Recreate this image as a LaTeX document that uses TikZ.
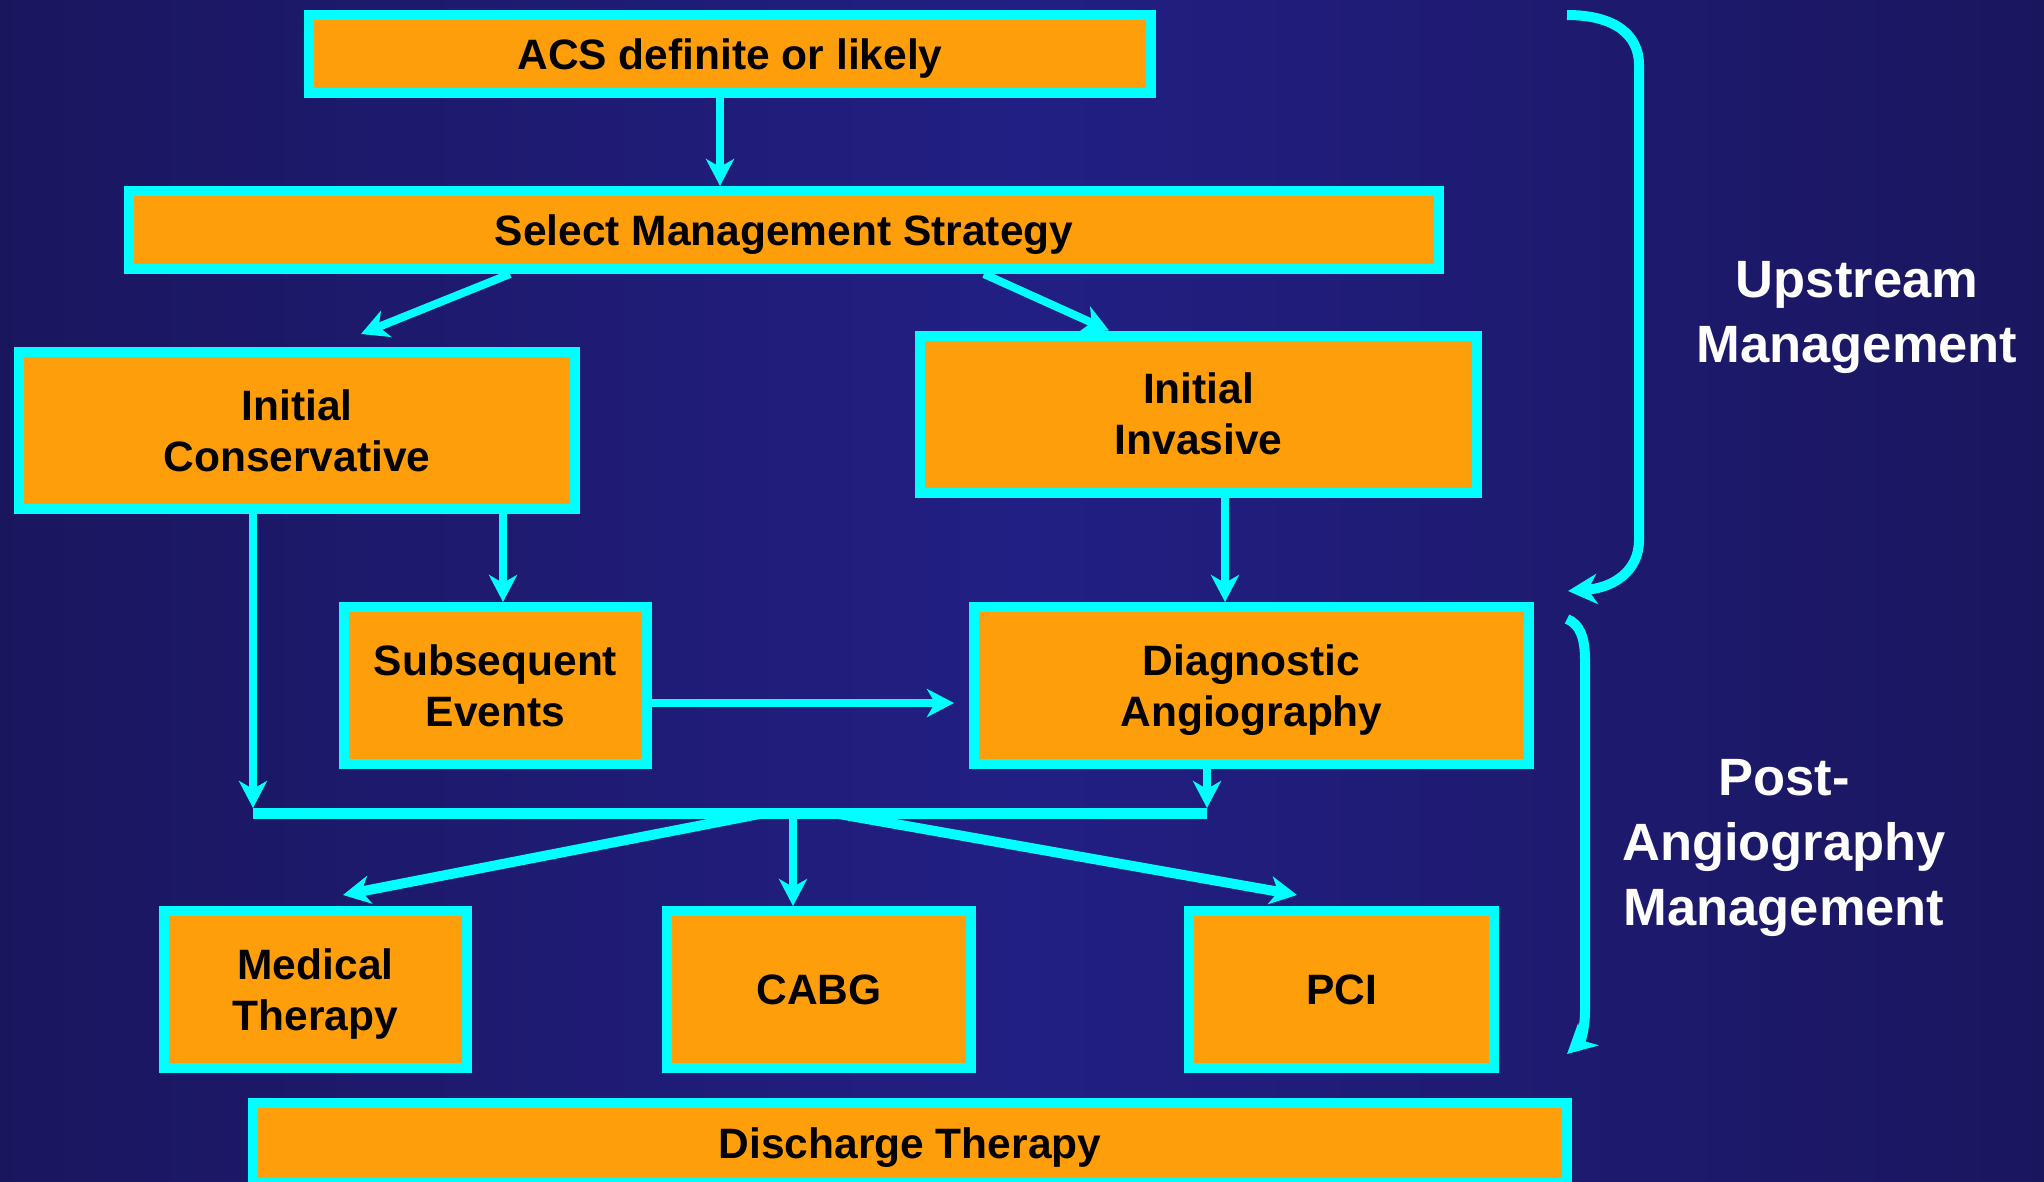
\documentclass[tikz,border=0pt]{standalone}
\usepackage{amsmath}
\usepackage{fontspec}
\setmainfont{Liberation Sans}
\usetikzlibrary{arrows.meta}
\definecolor{bgdark}{RGB}{26,22,94}
\definecolor{bglight}{RGB}{34,31,132}
\definecolor{boxorange}{RGB}{255,158,11}
\definecolor{linkcyan}{RGB}{0,255,255}

\begin{document}
\begin{tikzpicture}[x=1pt, y=-1pt,
flowbox/.style = {draw = linkcyan, fill = boxorange, line width = 10pt, inner sep = 0pt,
    align = center, text = black, font = \bfseries\fontsize{42.5}{51}\selectfont},
sidelabel/.style = {align = center, text = white, font = \bfseries\fontsize{52.5}{65}\selectfont},
link/.style = {draw = linkcyan, line width = 8pt, -{Stealth[length=27pt, width=28pt, inset=8pt]}},
fan/.style = {link, line width = 10pt},
junction/.style = {draw = linkcyan, line width = 11pt},
bracket/.style = {draw = linkcyan, line width = 10pt, -{Stealth[length=29pt, width=30pt, inset=9pt]}}]
\useasboundingbox (0,0) rectangle (2044,1181);
\clip (0,0) rectangle (2044,1181);
\shade[left color = bgdark, right color = bgdark, middle color = bglight] (0,0) rectangle (2044,1181);
% boxes
\node[flowbox, minimum width = 842pt, minimum height = 78pt] (acs) at (730,54) {\smash[b]{ACS definite or likely}};
\node[flowbox, minimum width = 1310pt, minimum height = 78pt] (select) at (784,230) {\smash[b]{Select Management Strategy}};
\node[flowbox, minimum width = 556pt, minimum height = 157pt] (cons) at (297,430.5) {Initial\\Conservative};
\node[flowbox, minimum width = 557pt, minimum height = 157pt] (inv) at (1198.5,414) {Initial\\Invasive};
\node[flowbox, minimum width = 303pt, minimum height = 157pt] (subs) at (495.5,685.5) {Subsequent\\Events};
\node[flowbox, minimum width = 555pt, minimum height = 157pt] (diag) at (1251.5,685.5) {Diagnostic\\\smash[b]{Angiography}};
\node[flowbox, minimum width = 303pt, minimum height = 157pt] (med) at (315.5,989.5) {Medical\\\smash[b]{Therapy}};
\node[flowbox, minimum width = 304pt, minimum height = 157pt] (cabg) at (819,989.5) {CABG};
\node[flowbox, minimum width = 305pt, minimum height = 157pt] (pci) at (1341.5,989.5) {PCI};
\node[flowbox, minimum width = 1314pt, minimum height = 80pt] (dis) at (910,1143) {\smash[b]{Discharge Therapy}};
% columns of the straight links
\coordinate (xacs) at (720,0);
\coordinate (xsubs) at (503,0);
\coordinate (xinv) at (1225,0);
\coordinate (barL) at (253,813.5);
\coordinate (barR) at (1207,813.5);
\coordinate (fanL) at (762,813.5);
\coordinate (fanC) at (793,813.5);
\coordinate (fanR) at (836,813.5);
% links
\draw[link] (acs.south -| xacs) -- (select.north -| xacs);
\draw[link] ([xshift=-274pt]select.south) -- ([xshift=64pt, yshift=13pt]cons.north);
\draw[link] ([xshift=200pt]select.south) -- ([xshift=-89.5pt]inv.north);
\draw[link] (cons.south -| xsubs) -- (subs.north -| xsubs);
\draw[link] (inv.south -| xinv) -- (diag.north -| xinv);
\draw[link] ([yshift=-17.5pt]subs.east) -- ([xshift=-15pt, yshift=-17.5pt]diag.west);
\draw[link] (cons.south -| barL) -- ([yshift=5.5pt]barL);
\draw[link] (diag.south -| barR) -- ([yshift=5.5pt]barR);
\draw[junction] (barL) -- (barR);
\draw[fan] (fanL) -- ([xshift=27.5pt, yshift=11pt]med.north);
\draw[link] (fanC) -- (cabg.north -| fanC);
\draw[fan] (fanR) -- ([xshift=-44.5pt, yshift=11pt]pci.north);
% brackets
\draw[bracket] (1567,15) .. controls (1615,15) and (1639,35) .. (1639,65) -- (1639,540)
    .. controls (1639,572) and (1612,588) .. (1568,591);
\draw[bracket] (1567,619) .. controls (1580,624) and (1585,638) .. (1585,660) -- (1585,1010)
    .. controls (1585,1030) and (1580,1042) .. (1567,1054);
\node[sidelabel] (upstream) at (1857,317) {Upstream\\Management};
\node[sidelabel] (postangio) at (1784,848) {Post-\\Angiography\\Management};
\end{tikzpicture}
\end{document}
